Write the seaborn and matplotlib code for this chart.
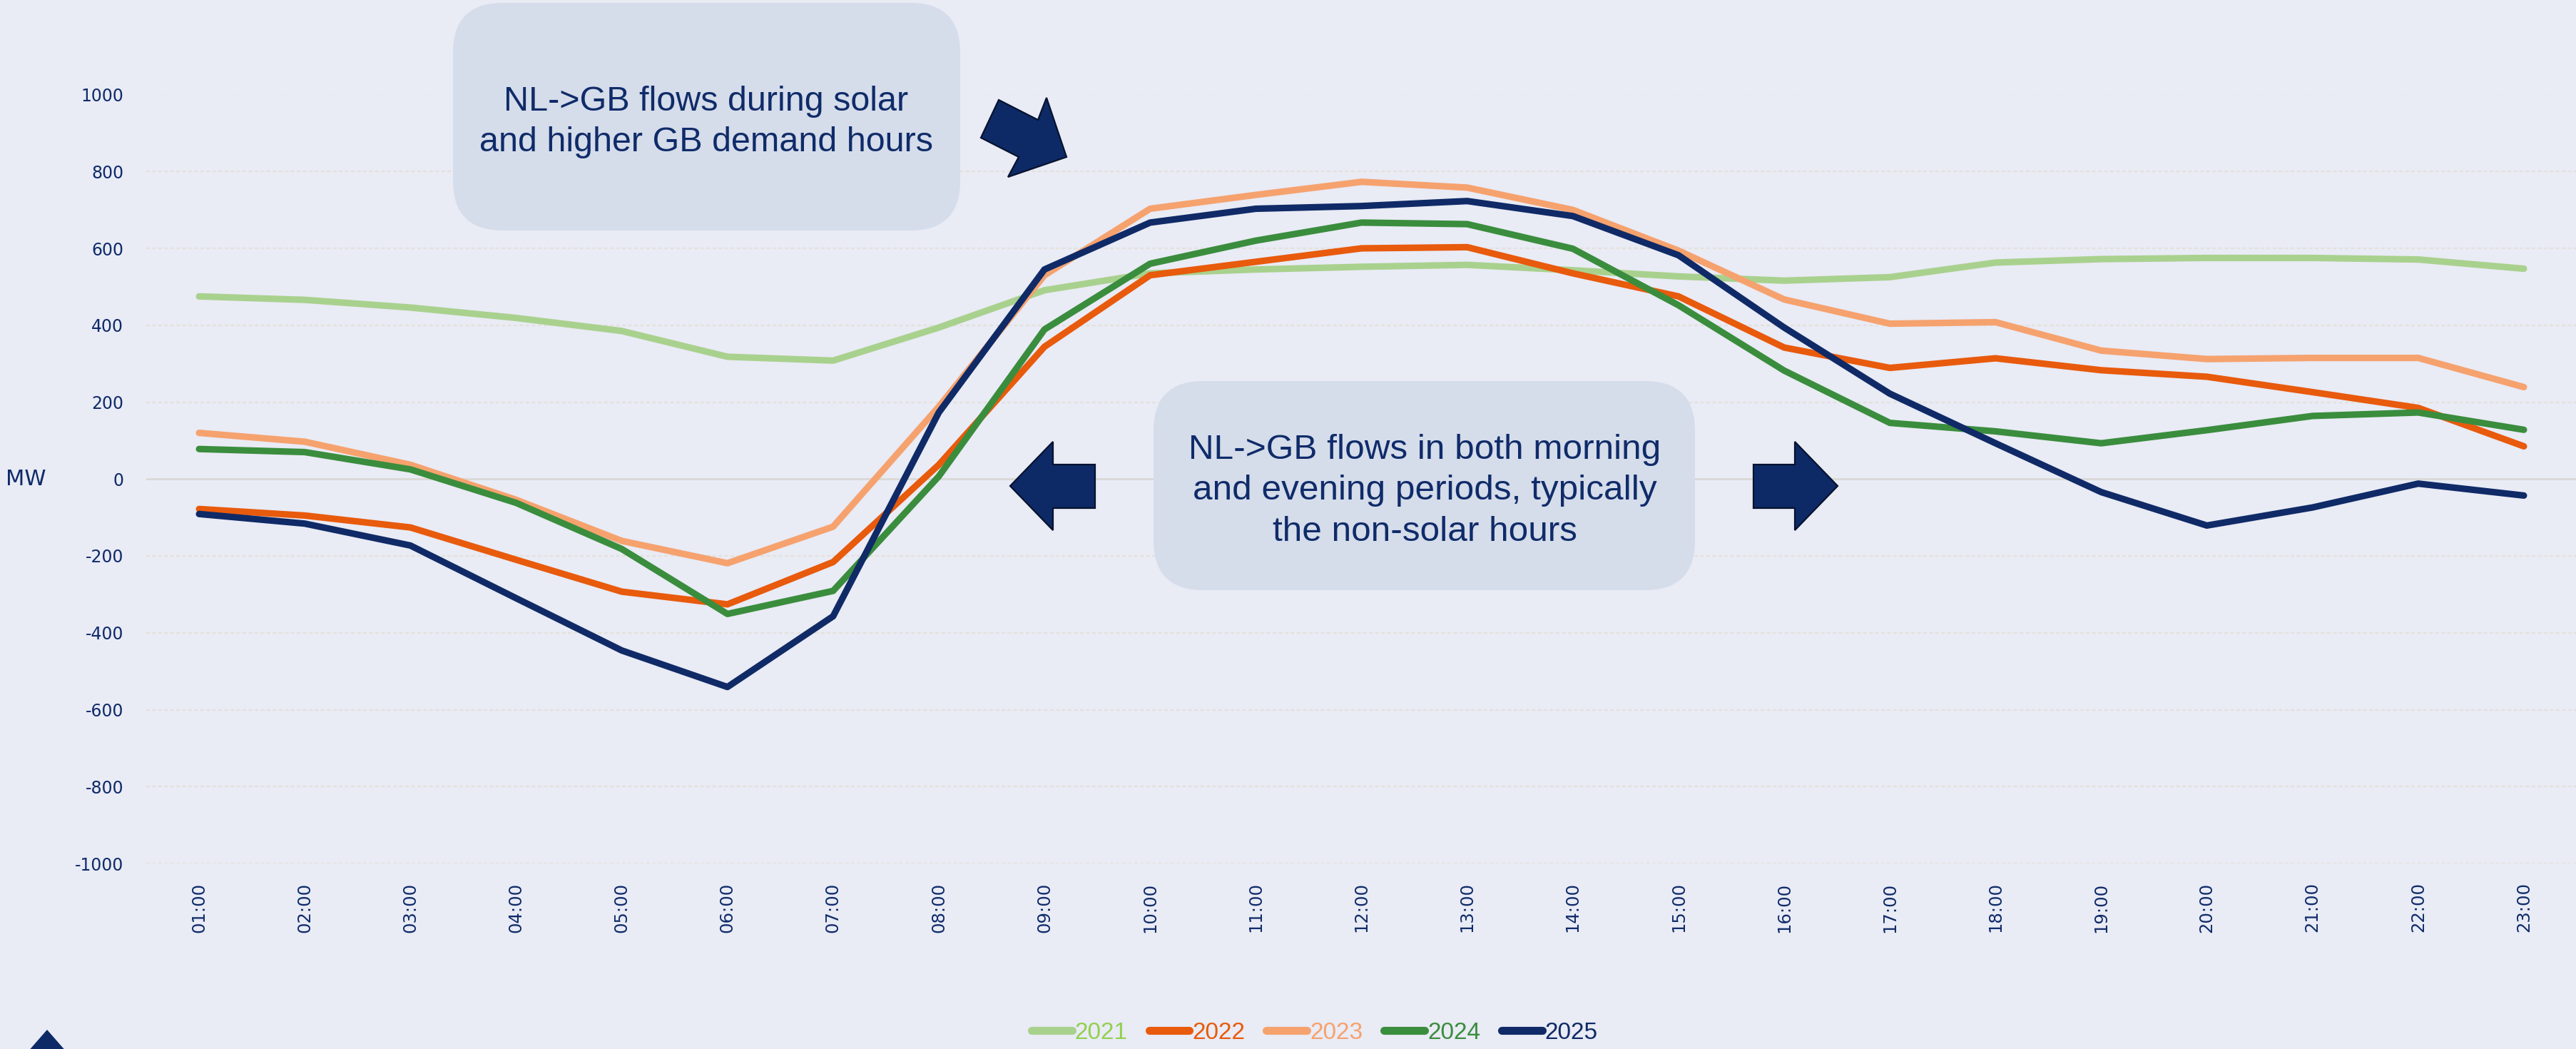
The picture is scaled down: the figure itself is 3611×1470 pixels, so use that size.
import matplotlib
matplotlib.use("Agg")
import matplotlib.pyplot as plt
import seaborn as sns
import pandas as pd
from matplotlib import font_manager
from matplotlib.patches import FancyBboxPatch, Polygon

# ---------------- data ----------------
hours = ["01:00", "02:00", "03:00", "04:00", "05:00", "06:00", "07:00", "08:00",
         "09:00", "10:00", "11:00", "12:00", "13:00", "14:00", "15:00", "16:00",
         "17:00", "18:00", "19:00", "20:00", "21:00", "22:00", "23:00"]
years = ["2021", "2022", "2023", "2024", "2025"]
y2021 = [475, 466, 446, 419, 385, 318, 308, 394, 491, 535, 545, 552, 557, 543, 527, 516, 525, 563, 572, 575, 575, 571, 547]
y2022 = [-78, -95, -126, -210, -293, -326, -216, 37, 344, 530, 565, 600, 603, 535, 475, 342, 289, 314, 283, 266, 226, 185, 85]
y2023 = [120, 97, 37, -54, -161, -219, -124, 188, 530, 703, 739, 773, 758, 700, 594, 467, 404, 408, 334, 312, 315, 315, 239]
y2024 = [78, 70, 25, -62, -182, -351, -291, 7, 389, 560, 620, 667, 663, 599, 452, 282, 146, 124, 93, 127, 164, 173, 128]
y2025 = [-91, -116, -173, -310, -446, -541, -357, 173, 545, 667, 703, 710, 723, 684, 582, 394, 222, 93, -34, -121, -74, -12, -43]
yticks = [-1000, -800, -600, -400, -200, 0, 200, 400, 600, 800, 1000]
box1_lines = ["NL->GB flows during solar", "and higher GB demand hours"]
box2_lines = ["NL->GB flows in both morning", "and evening periods, typically", "the non-solar hours"]

line_colors = ["#a9d18e", "#e85a0c", "#f6a26e", "#3a8d3d", "#0f2a66"]
legend_text_colors = ["#92d050", "#e85a0c", "#f6a26e", "#3a8d3d", "#0f2a66"]

# ---------------- style ----------------
BG = "#e9ebf5"
BOX = "#d5dcea"
NAVY = "#0f2b69"
W, H = 3612, 1470

sns.set_style("white")
plt.rcParams["axes.unicode_minus"] = False
avail = {f.name for f in font_manager.fontManager.ttflist}
narrow = "Liberation Sans Narrow" if "Liberation Sans Narrow" in avail else "Liberation Sans"
plt.rcParams["font.family"] = ["DejaVu Sans"]

df = pd.DataFrame({"hour": hours * 5,
                   "year": sum([[y] * len(hours) for y in years], []),
                   "MW": y2021 + y2022 + y2023 + y2024 + y2025})

fig = plt.figure(figsize=(W / 100, H / 100), dpi=100, facecolor=BG)
ax = fig.add_axes([205 / W, 1 - 1210 / H, 1 - 205 / W, (1210 - 132.5) / H])
ax.set_facecolor(BG)

sns.lineplot(data=df, x="hour", y="MW", hue="year", palette=line_colors,
             linewidth=6.6, ax=ax, sort=False, zorder=3)
for ln in ax.get_lines():
    ln.set_solid_capstyle("round")
    ln.set_solid_joinstyle("round")
handles, labels = ax.get_legend_handles_labels()
if ax.get_legend() is not None:
    ax.get_legend().remove()

ax.set_xlim(-0.5, len(hours) - 0.5)
ax.set_ylim(-1000, 1000)
ax.set_yticks(yticks)
ax.set_yticklabels([str(v) for v in yticks])
for v in yticks:
    if v == 0:
        ax.axhline(v, color="#d9d8d6", lw=2.0, zorder=1)
    else:
        ax.axhline(v, color="#e3e1da", lw=1.6, ls=(0, (2.2, 1.6)), zorder=1)
for s in ax.spines.values():
    s.set_visible(False)
ax.tick_params(axis="both", length=0, colors=NAVY)
ax.tick_params(axis="y", labelsize=17, pad=23)
ax.tick_params(axis="x", labelsize=17.5, pad=19, rotation=90)
ax.set_xlabel("")
ax.set_ylabel("")
fig.text(36 / W, 1 - 671 / H, "MW", ha="center", va="center", fontsize=22, color=NAVY)

# legend
for h in handles:
    h.set_linewidth(8)
    h.set_solid_capstyle("round")
leg = fig.legend(handles, labels, loc="center", bbox_to_anchor=(1843 / W, 1 - 1447 / H),
                 ncol=5, frameon=False, handlelength=1.7, handletextpad=0.12,
                 columnspacing=0.9, prop={"family": narrow, "size": 24})
for t, c in zip(leg.get_texts(), legend_text_colors):
    t.set_color(c)

# ---------------- annotation overlay (pixel coords) ----------------
ov = fig.add_axes([0, 0, 1, 1], zorder=5)
ov.set_xlim(0, W)
ov.set_ylim(H, 0)
ov.axis("off")
ov.patch.set_alpha(0)

def rbox(x0, y0, x1, y1, r):
    ov.add_patch(FancyBboxPatch((x0 + r, y0 + r), (x1 - x0) - 2 * r, (y1 - y0) - 2 * r,
                                boxstyle=f"round,pad={r},rounding_size={r}",
                                fc=BOX, ec="none", zorder=1))

rbox(635, 4, 1346, 323, 70)
rbox(1617, 534, 2376, 827, 70)

def fit_lines(cx, baselines, lines, target_w):
    texts = [ov.text(cx, b, s, ha="center", va="baseline", fontsize=30,
                     family=narrow, color=NAVY, zorder=3) for b, s in zip(baselines, lines)]
    fig.canvas.draw()
    wmax = max(t.get_window_extent().width for t in texts)
    for t in texts:
        t.set_fontsize(30 * target_w / wmax)

fit_lines(990, [155, 212], box1_lines, 635)
fit_lines(1997, [643, 700, 758], box2_lines, 660)

arrow_kw = dict(closed=True, fc="#0d2a66", ec="#06122e", lw=1.6, zorder=4)
ov.add_patch(Polygon([(1400, 140), (1455, 168), (1467, 137), (1495, 220),
                      (1413, 248), (1428, 220), (1375, 193)], **arrow_kw))
ov.add_patch(Polygon([(1416, 681), (1476, 619), (1476, 651), (1535, 651),
                      (1535, 712), (1476, 712), (1476, 743)], **arrow_kw))
ov.add_patch(Polygon([(2576, 681), (2516, 619), (2516, 651), (2458, 651),
                      (2458, 712), (2516, 712), (2516, 743)], **arrow_kw))
ov.add_patch(Polygon([(38, 1475), (66, 1443), (94, 1475)], closed=True,
                     fc="#0d2a66", ec="none", zorder=4))

fig.savefig("out.png", dpi=100, facecolor=BG)
